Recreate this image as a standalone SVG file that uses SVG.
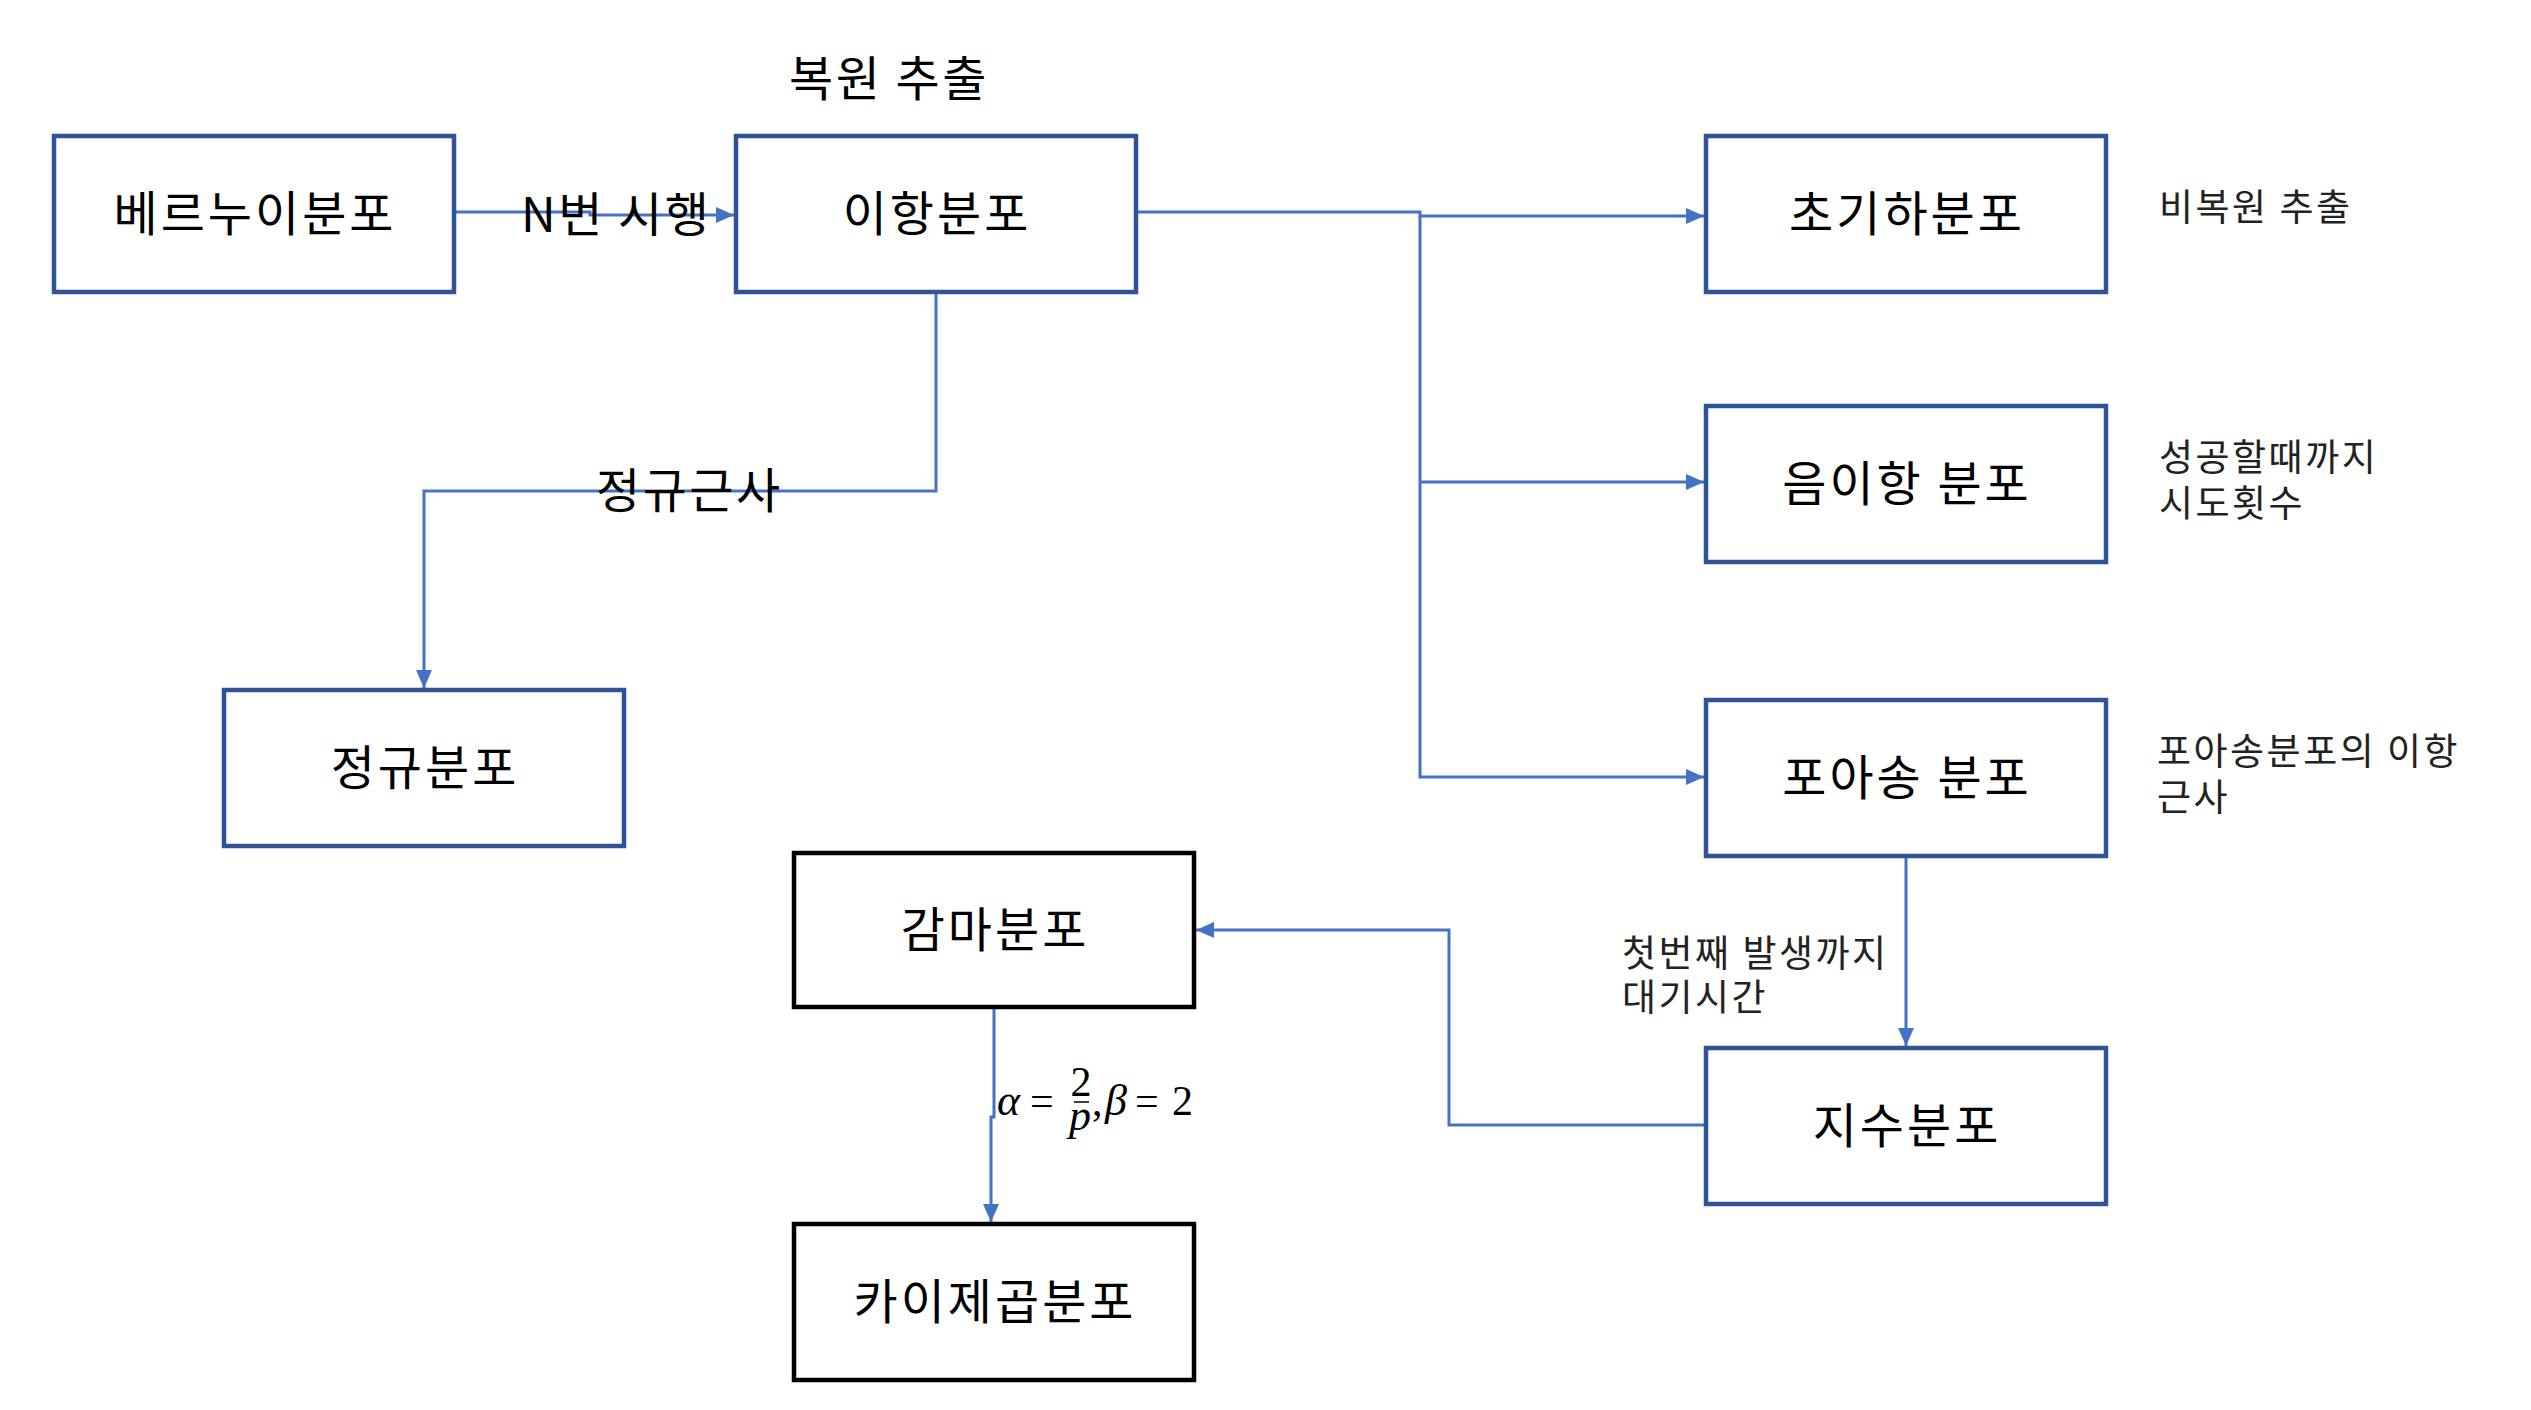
<svg xmlns="http://www.w3.org/2000/svg" width="2531" height="1410" viewBox="0 0 2531 1410">
<style>
.box{fill:#ffffff;stroke:#2F5597;stroke-width:4.5}
.boxk{fill:#ffffff;stroke:#000000;stroke-width:4.5}
.lbl{font-family:"Noto Sans CJK KR","Noto Sans",sans-serif;font-size:48px;letter-spacing:3px;fill:#000;text-anchor:middle}
.edge{font-family:"Noto Sans CJK KR","Noto Sans",sans-serif;font-size:48px;letter-spacing:2.5px;fill:#000}
.note{font-family:"Noto Sans CJK KR","Noto Sans",sans-serif;font-size:37px;letter-spacing:2.5px;fill:#222}
.conn{fill:none;stroke:#4472C4;stroke-width:3}
.m{font-family:"Liberation Serif","Times New Roman",serif;font-size:42px;fill:#000}
.mi{font-family:"Liberation Serif","Times New Roman",serif;font-size:44px;font-style:italic;fill:#000}
</style>
<defs>
<marker id="arr" markerUnits="userSpaceOnUse" markerWidth="18" markerHeight="16" refX="18" refY="8" orient="auto">
<path d="M0,0 L18,8 L0,16 z" fill="#4472C4"/>
</marker>
</defs>
<rect width="2531" height="1410" fill="#ffffff"/>

<g id="connectors">
<path class="conn" d="M454,212 H590 V215 H734" marker-end="url(#arr)"/>
<path class="conn" d="M1136,212 H1420 V216 H1704" marker-end="url(#arr)"/>
<path class="conn" d="M1420,216 V777 H1704" marker-end="url(#arr)"/>
<path class="conn" d="M1420,482 H1704" marker-end="url(#arr)"/>
<path class="conn" d="M936,292 V491 H424 V688" marker-end="url(#arr)"/>
<path class="conn" d="M1906,856 V1046" marker-end="url(#arr)"/>
<path class="conn" d="M1706,1125 H1449 V930 H1196" marker-end="url(#arr)"/>
<path class="conn" d="M994,1007 V1117 H991 V1222" marker-end="url(#arr)"/>
</g>

<g id="edge-labels">
<text class="edge" x="789" y="96">복원 추출</text>
<text class="edge" x="521" y="232">N번 시행</text>
<text class="edge" x="596" y="508">정규근사</text>
<text class="note" x="1622" y="967">첫번째 발생까지</text>
<text class="note" x="1622" y="1011">대기시간</text>
<g id="math">
<text class="mi" x="997" y="1115">α</text>
<text class="m" x="1030" y="1115" font-size="44">=</text>
<text class="m" x="1081" y="1096" text-anchor="middle" font-size="21">2</text>
<line x1="1074" y1="1102" x2="1089" y2="1102" stroke="#000" stroke-width="1.5"/>
<text class="mi" x="1080" y="1130" text-anchor="middle" font-size="22">p</text>
<text class="m" x="1092" y="1115">,</text>
<text class="mi" x="1105" y="1115" font-size="42">β</text>
<text class="m" x="1135" y="1115" font-size="44">=</text>
<text class="m" x="1172" y="1115">2</text>
</g>
</g>

<g id="n-bernoulli"><rect class="box" x="54" y="136" width="400" height="156"/><text class="lbl" x="255" y="231">베르누이분포</text></g>
<g id="n-binomial"><rect class="box" x="736" y="136" width="400" height="156"/><text class="lbl" x="937" y="231">이항분포</text></g>
<g id="n-hypergeo"><rect class="box" x="1706" y="136" width="400" height="156"/><text class="lbl" x="1907" y="231">초기하분포</text></g>
<g id="n-negbinom"><rect class="box" x="1706" y="406" width="400" height="156"/><text class="lbl" x="1907" y="501">음이항 분포</text></g>
<g id="n-poisson"><rect class="box" x="1706" y="700" width="400" height="156"/><text class="lbl" x="1907" y="795">포아송 분포</text></g>
<g id="n-exponential"><rect class="box" x="1706" y="1048" width="400" height="156"/><text class="lbl" x="1907" y="1143">지수분포</text></g>
<g id="n-normal"><rect class="box" x="224" y="690" width="400" height="156"/><text class="lbl" x="425" y="785">정규분포</text></g>
<g id="n-gamma"><rect class="boxk" x="794" y="853" width="400" height="154"/><text class="lbl" x="995" y="947">감마분포</text></g>
<g id="n-chisq"><rect class="boxk" x="794" y="1224" width="400" height="156"/><text class="lbl" x="995" y="1319">카이제곱분포</text></g>

<g id="notes">
<text class="note" x="2159" y="221">비복원 추출</text>
<text class="note" x="2159" y="471">성공할때까지</text>
<text class="note" x="2159" y="517">시도횟수</text>
<text class="note" x="2157" y="765">포아송분포의 이항</text>
<text class="note" x="2157" y="811">근사</text>
</g>
</svg>
